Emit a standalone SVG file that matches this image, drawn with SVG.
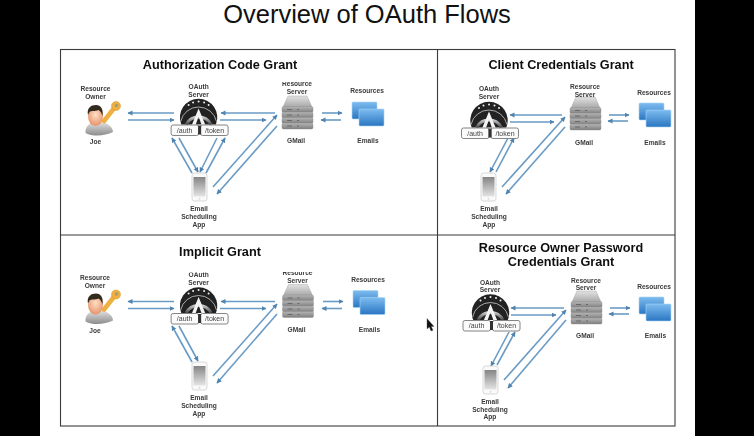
<svg xmlns="http://www.w3.org/2000/svg" xmlns:xlink="http://www.w3.org/1999/xlink" width="754" height="436" viewBox="0 0 754 436">
<style>
text{font-family:"Liberation Sans",Arial,sans-serif}
.t{font-size:12.7px;font-weight:700;fill:#111;text-anchor:middle}
.n{font-size:6.6px;font-weight:700;fill:#3a3a3a;text-anchor:middle}
.b{font-size:7px;fill:#444;text-anchor:middle}
.f{fill:none;stroke:#3a3a3a;stroke-width:1.1}
.c line{stroke:#6a9bc4;stroke-width:1.6;marker-end:url(#ah)}
.box{fill:#fbfbfb;stroke:#777;stroke-width:.9}
.sl{fill:url(#gs);stroke:#8a8a8a;stroke-width:.4}
</style>
<defs>
<marker id="ah" markerUnits="userSpaceOnUse" markerWidth="6" markerHeight="6" refX="4.5" refY="2.5" orient="auto"><path d="M0 0L5 2.500L0 5z" fill="#4f84b0"/></marker>
<filter id="soft" x="-2%" y="-2%" width="104%" height="104%"><feGaussianBlur stdDeviation="0.35"/></filter>
<linearGradient id="gs" x1="0" y1="0" x2="0" y2="1"><stop offset="0" stop-color="#b5b5b5"/><stop offset="1" stop-color="#7f7f7f"/></linearGradient>
<linearGradient id="gt" x1="0" y1="0" x2="0" y2="1"><stop offset="0" stop-color="#e2e2e2"/><stop offset="1" stop-color="#a8a8a8"/></linearGradient>
<linearGradient id="gb" x1="0" y1="0" x2="0" y2="1"><stop offset="0" stop-color="#7dbcf0"/><stop offset="1" stop-color="#2a76c2"/></linearGradient>
<linearGradient id="gp" x1="0" y1="0" x2="0" y2="1"><stop offset="0" stop-color="#858585"/><stop offset="1" stop-color="#e4e4e4"/></linearGradient>
<radialGradient id="gh" cx=".5" cy=".4" r=".6"><stop offset="0" stop-color="#fde0c8"/><stop offset="1" stop-color="#e8936a"/></radialGradient>
<linearGradient id="gc" x1="0" y1="0" x2="0" y2="1"><stop offset="0" stop-color="#e4e4e4"/><stop offset="1" stop-color="#8c8c8c"/></linearGradient>
<linearGradient id="gr" x1="0" y1="0" x2="0" y2="1"><stop offset="0" stop-color="#c9c9c9"/><stop offset="1" stop-color="#444"/></linearGradient>
<clipPath id="cr1"><rect x="270" y="82" width="50" height="16"/></clipPath>
<clipPath id="cr3"><rect x="270" y="272" width="50" height="12"/></clipPath>
<clipPath id="co3"><rect x="170" y="272.5" width="50" height="14"/></clipPath>
<g id="person">
<path d="M-6.500 13C-7 6-2 3 2 1.500L10 1.500C15 4 21 6 21 12C13 16 1 17-6.500 13z" fill="url(#gc)"/>
<path d="M12 1L23-13" stroke="#eeb040" stroke-width="4.600" stroke-linecap="round"/>
<circle cx="24" cy="-14" r="4.500" fill="#eeb040" stroke="#d9962a" stroke-width=".5"/>
<circle cx="24.500" cy="-14.500" r="1.700" fill="#a89a80"/>
<ellipse cx="3.500" cy="-3.500" rx="7.500" ry="9.500" fill="url(#gh)"/>
<path d="M-4-5C-5.500-12-1-15 4-15C9-15 11.500-11 10.500-4C9.500-7 8.500-9 6.500-10C3-8.500-1-9.500-2.500-8z" fill="#33291f"/>
</g>
<g id="oauth">
<path d="M-17.300 7A18.700 18.700 0 1 1 17.300 7z" fill="#222"/>
<path d="M-17.900 4A18.300 18.300 0 0 1 17.900 4" fill="none" stroke="#ccc" stroke-width=".8"/>
<path d="M-12.400 7A14 14 0 0 1 12.400 7" fill="none" stroke="url(#gr)" stroke-width="3"/>
<path d="M-10-12.500h.01M-5.500-15h.01M0-16h.01M5.500-15h.01M10-12.500h.01" stroke="#eee" stroke-width="2" stroke-linecap="round" fill="none"/>
<path d="M0-9L7 8H3.200L0-1L-3.200 8H-7z" fill="#f4f4f4"/>
<rect class="box" x="-27.500" y="7.500" width="27.500" height="10.500" rx="2"/>
<rect class="box" x="2" y="7.500" width="27.500" height="10.500" rx="2"/>
<rect x="-0.500" y="8" width="3" height="9" fill="#333"/>
<text class="b" x="-14" y="15">/auth</text>
<text class="b" x="16" y="15">/token</text>
</g>
<g id="server">
<path d="M6 0H25L30 11H1z" fill="url(#gt)" stroke="#999" stroke-width=".4"/>
<rect class="sl" x="0" y="10.500" width="31" height="6" rx="1.500"/>
<rect class="sl" x="0" y="16" width="31" height="6" rx="1.500"/>
<rect class="sl" x="0" y="21.500" width="31" height="6" rx="1.500"/>
<rect class="sl" x="0" y="27" width="31" height="6" rx="1.500"/>
<path d="M5 13.500h5M5 19h5M5 24.500h5M5 30h5M15 13.500h2M15 19h2M15 24.500h2M15 30h2" stroke="#555" stroke-width=".7"/>
</g>
<g id="folders">
<rect x="0" y="0" width="25" height="17" rx="1" fill="url(#gb)" stroke="#a9d3f3" stroke-width=".6"/>
<rect x="7" y="7" width="25" height="17" rx="1" fill="url(#gb)" stroke="#a9d3f3" stroke-width=".6"/>
</g>
<g id="phone">
<rect x="0" y="0" width="15" height="28" rx="2.500" fill="#fafafa" stroke="#c8c8c8" stroke-width=".7"/>
<rect x="1.500" y="4" width="12" height="19.500" fill="url(#gp)"/>
<circle cx="7.500" cy="25.800" r="1" fill="#ddd"/>
</g>
</defs>
<rect width="754" height="436" fill="#fff"/>
<rect x="0" y="0" width="40" height="436" fill="#000"/>
<rect x="695" y="0" width="59" height="436" fill="#000"/>
<text id="title" x="367" y="23.200" text-anchor="middle" fill="#111" style="font-size:25.500px">Overview of OAuth Flows</text>
<g filter="url(#soft)">
<g id="frame">
<rect class="f" x="60.500" y="49.500" width="614.500" height="376.500"/>
<path class="f" d="M437.500 49.500V426M60.500 235H675"/>
</g>
<g id="titles">
<text class="t" x="220" y="69">Authorization Code Grant</text>
<text class="t" x="561" y="69">Client Credentials Grant</text>
<text class="t" x="220" y="256">Implicit Grant</text>
<text class="t" x="561" y="252">Resource Owner Password</text>
<text class="t" x="561" y="266">Credentials Grant</text>
</g>
<g id="connectors" class="c">
<g id="c-authcode">
<line x1="174" y1="113" x2="128" y2="113"/><line x1="128" y1="120" x2="174" y2="120"/>
<line x1="275" y1="113" x2="221" y2="113"/><line x1="220" y1="120" x2="266" y2="120"/>
<line x1="322" y1="113" x2="342" y2="113"/><line x1="341" y1="120" x2="321" y2="120"/>
<line x1="213" y1="187" x2="277" y2="115"/><line x1="277" y1="126" x2="217" y2="194"/>
<line x1="192" y1="173" x2="172" y2="138"/><line x1="179" y1="138" x2="198" y2="172"/>
<line x1="217" y1="138" x2="200" y2="172"/><line x1="206" y1="173" x2="225" y2="138"/>
</g>
<g id="c-client">
<line x1="562" y1="115" x2="510" y2="115"/><line x1="510" y1="122" x2="554" y2="122"/>
<line x1="609" y1="115" x2="629" y2="115"/><line x1="628" y1="121" x2="608" y2="121"/>
<line x1="502" y1="187" x2="565" y2="117"/><line x1="565" y1="127" x2="506" y2="194"/>
<line x1="508" y1="138" x2="490" y2="172"/><line x1="496" y1="172" x2="514" y2="138"/>
</g>
<g id="c-implicit">
<line x1="174" y1="301.500" x2="128" y2="301.500"/><line x1="128" y1="308.500" x2="174" y2="308.500"/>
<line x1="275" y1="301.500" x2="221" y2="301.500"/><line x1="220" y1="308.500" x2="266" y2="308.500"/>
<line x1="323" y1="301.500" x2="343" y2="301.500"/><line x1="342" y1="308.500" x2="322" y2="308.500"/>
<line x1="213" y1="376" x2="277" y2="304"/><line x1="277" y1="314" x2="217" y2="383"/>
<line x1="192" y1="362" x2="172" y2="326"/><line x1="179" y1="326" x2="198" y2="361"/>
</g>
<g id="c-password">
<line x1="564" y1="308" x2="511" y2="308"/><line x1="511" y1="315" x2="556" y2="315"/>
<line x1="610" y1="308" x2="630" y2="308"/><line x1="629" y1="314" x2="609" y2="314"/>
<line x1="504" y1="380" x2="566" y2="310"/><line x1="566" y1="320" x2="508" y2="388"/>
<line x1="509" y1="332" x2="491" y2="366"/><line x1="497" y1="365" x2="515" y2="332"/>
</g>
</g>
<g id="a-owner"><use xlink:href="#person" href="#person" x="92" y="120"/><text class="n" x="95.500" y="91">Resource</text><text class="n" x="95.500" y="99">Owner</text><text class="n" x="95.500" y="144">Joe</text></g>
<g id="a-oauth"><use xlink:href="#oauth" href="#oauth" x="198.600" y="117.500"/><text class="n" x="198.600" y="88.500">OAuth</text><text class="n" x="198.600" y="96.500">Server</text></g>
<g id="a-app"><use xlink:href="#phone" href="#phone" x="192" y="173"/><text class="n" x="199" y="211">Email</text><text class="n" x="199" y="219">Scheduling</text><text class="n" x="199" y="227">App</text></g>
<g id="a-rs"><use xlink:href="#server" href="#server" x="282" y="96"/><text class="n" x="297" y="86" clip-path="url(#cr1)">Resource</text><text class="n" x="297" y="94">Server</text><text class="n" x="296" y="143">GMail</text></g>
<g id="a-res"><use xlink:href="#folders" href="#folders" x="352" y="102"/><text class="n" x="367" y="93">Resources</text><text class="n" x="368" y="143">Emails</text></g>
<g id="b-oauth"><use xlink:href="#oauth" href="#oauth" x="489" y="120.500"/><text class="n" x="489" y="91">OAuth</text><text class="n" x="489" y="99">Server</text></g>
<g id="b-app"><use xlink:href="#phone" href="#phone" x="481" y="173"/><text class="n" x="489" y="211">Email</text><text class="n" x="489" y="219">Scheduling</text><text class="n" x="489" y="227">App</text></g>
<g id="b-rs"><use xlink:href="#server" href="#server" x="570" y="97"/><text class="n" x="585" y="89">Resource</text><text class="n" x="585" y="96.500">Server</text><text class="n" x="584" y="144.500">GMail</text></g>
<g id="b-res"><use xlink:href="#folders" href="#folders" x="639" y="103"/><text class="n" x="654" y="95">Resources</text><text class="n" x="655" y="144.500">Emails</text></g>
<g id="c-owner"><use xlink:href="#person" href="#person" x="92" y="308.500"/><text class="n" x="95" y="279.500">Resource</text><text class="n" x="95" y="287.500">Owner</text><text class="n" x="95" y="332.500">Joe</text></g>
<g id="c-oauth"><use xlink:href="#oauth" href="#oauth" x="198.600" y="306"/><text class="n" x="198.600" y="276.500" clip-path="url(#co3)">OAuth</text><text class="n" x="198.600" y="285">Server</text></g>
<g id="c-app"><use xlink:href="#phone" href="#phone" x="192" y="362"/><text class="n" x="199" y="400">Email</text><text class="n" x="199" y="408">Scheduling</text><text class="n" x="199" y="416">App</text></g>
<g id="c-rs"><use xlink:href="#server" href="#server" x="282.500" y="284.500"/><text class="n" x="297.500" y="274.500" clip-path="url(#cr3)">Resource</text><text class="n" x="297.500" y="282.500">Server</text><text class="n" x="296.500" y="331.500">GMail</text></g>
<g id="c-res"><use xlink:href="#folders" href="#folders" x="353" y="290.500"/><text class="n" x="368" y="281.500">Resources</text><text class="n" x="369.500" y="331.500">Emails</text></g>
<g id="d-oauth"><use xlink:href="#oauth" href="#oauth" x="490.500" y="313"/><text class="n" x="490" y="284.500">OAuth</text><text class="n" x="490" y="292">Server</text></g>
<g id="d-app"><use xlink:href="#phone" href="#phone" x="483" y="366"/><text class="n" x="490" y="403.500">Email</text><text class="n" x="490" y="411.500">Scheduling</text><text class="n" x="490" y="419">App</text></g>
<g id="d-rs"><use xlink:href="#server" href="#server" x="571" y="291"/><text class="n" x="586" y="282.500">Resource</text><text class="n" x="586" y="290">Server</text><text class="n" x="585" y="338">GMail</text></g>
<g id="d-res"><use xlink:href="#folders" href="#folders" x="639" y="297"/><text class="n" x="654" y="288.500">Resources</text><text class="n" x="655.500" y="338">Emails</text></g>
</g>
<path id="cursor" d="M427 318.500V329L429.300 327L431 331L433 330.200L431.300 326.500H434z" fill="#111" stroke="#555" stroke-width=".4"/>
</svg>
